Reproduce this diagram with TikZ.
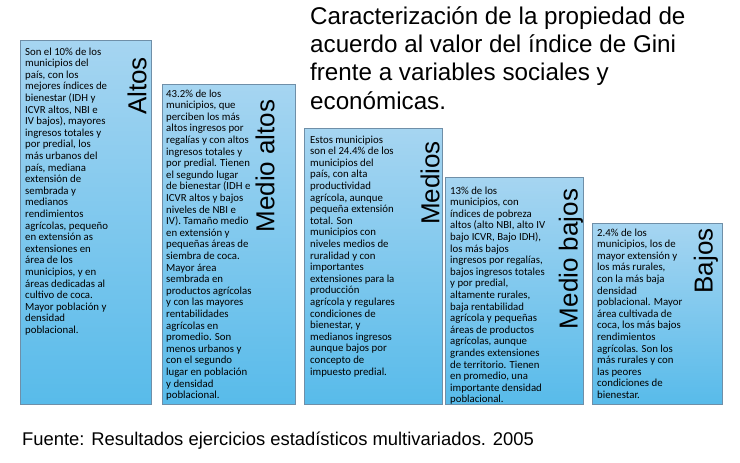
\documentclass[tikz,border=0pt]{standalone}
\usepackage{fontspec}
\setmainfont{Carlito}
\newfontfamily\arialfont{Liberation Sans}
\usepackage{xcolor}
\usepackage{tikz}
\definecolor{GiniTop}{HTML}{A6D5F1}
\definecolor{GiniBottom}{HTML}{58BBEA}
\definecolor{GiniLine}{HTML}{6F8FA8}

\begin{document}
\begin{tikzpicture}[x=1pt,y=-1pt,
  gbox/.style={draw=GiniLine,line width=.6pt,top color=GiniTop,bottom color=GiniBottom},
  gtext/.style={anchor=base west,inner sep=0,align=left,font=\fontsize{10.8}{11.6}\selectfont},
  glabel/.style={rotate=90,inner sep=0,font=\arialfont\fontsize{26}{26}\selectfont}]
\path[use as bounding box] (0,0) rectangle (740,463);
\fill[white] (0,0) rectangle (740,463);
% title (base = last line)
\node[anchor=base west,inner sep=0,align=left,font=\arialfont\fontsize{24.2}{28.3}\selectfont] (titulo) at (310,109)
  {Caracterización de la propiedad de\\acuerdo al valor del índice de Gini\\frente a variables sociales y\\económicas.};
% Altos
\draw[gbox] (20,40) rectangle (151,404);
\node[gtext] (txtaltos) at (25,333.4) {Son el 10\% de los\\municipios del\\país, con los\\mejores índices de\\bienestar (IDH y\\ICVR altos, NBI e\\IV bajos), mayores\\ingresos totales y\\por predial, los\\más urbanos del\\país, mediana\\extensión de\\sembrada y\\medianos\\rendimientos\\agrícolas, pequeño\\en extensión as\\extensiones en\\área de los\\municipios, y en\\áreas dedicadas al\\cultivo de coca.\\Mayor población y\\densidad\\poblacional.};
\node[glabel] (altos) at (137,86) {Altos};
% Medio altos
\draw[gbox] (162,84) rectangle (295,404);
\node[gtext] (txtmedioaltos) at (166,398.6) {43.2\% de los\\municipios, que\\perciben los más\\altos ingresos por\\regalías y con altos\\ingresos totales y\\por predial. Tienen\\el segundo lugar\\de bienestar (IDH e\\ICVR altos y bajos\\niveles de NBI e\\IV). Tamaño medio\\en extensión y\\pequeñas áreas de\\siembra de coca.\\Mayor área\\sembrada en\\productos agrícolas\\y con las mayores\\rentabilidades\\agrícolas en\\promedio. Son\\menos urbanos y\\con el segundo\\lugar en población\\y densidad\\poblacional.};
\node[glabel] (medioaltos) at (265,166) {Medio altos};
% Medios
\draw[gbox] (304,128) rectangle (442,404);
\node[gtext] (txtmedios) at (310,375) {Estos municipios\\son el 24.4\% de los\\municipios del\\país, con alta\\productividad\\agrícola, aunque\\pequeña extensión\\total. Son\\municipios con\\niveles medios de\\ruralidad y con\\importantes\\extensiones para la\\producción\\agrícola y regulares\\condiciones de\\bienestar, y\\medianos ingresos\\aunque bajos por\\concepto de\\impuesto predial.};
\node[glabel] (medios) at (430,183) {Medios};
% Medio bajos
\draw[gbox] (445,177) rectangle (583,404);
\node[gtext] (txtmediobajos) at (450,402.8) {13\% de los\\municipios, con\\índices de pobreza\\altos (alto NBI, alto IV\\bajo ICVR, Bajo IDH),\\los más bajos\\ingresos por regalías,\\bajos ingresos totales\\y por predial,\\altamente rurales,\\baja rentabilidad\\agrícola y pequeñas\\áreas de productos\\agrícolas, aunque\\grandes extensiones\\de territorio. Tienen\\en promedio, una\\importante densidad\\poblacional.};
\node[glabel] (mediobajos) at (571,259) {Medio bajos};
% Bajos
\draw[gbox] (592,223) rectangle (722,404);
\node[gtext] (txtbajos) at (597,398.4) {2.4\% de los\\municipios, los de\\mayor extensión y\\los más rurales,\\con la más baja\\densidad\\poblacional. Mayor\\área cultivada de\\coca, los más bajos\\rendimientos\\agrícolas. Son los\\más rurales y con\\las peores\\condiciones de\\bienestar.};
\node[glabel] (bajos) at (706,261) {Bajos};
% source
\node[anchor=base west,inner sep=0,font=\arialfont\fontsize{18.4}{18.4}\selectfont] (fuente) at (22,445)
  {Fuente: Resultados ejercicios estadísticos multivariados. 2005};
\end{tikzpicture}
\end{document}
